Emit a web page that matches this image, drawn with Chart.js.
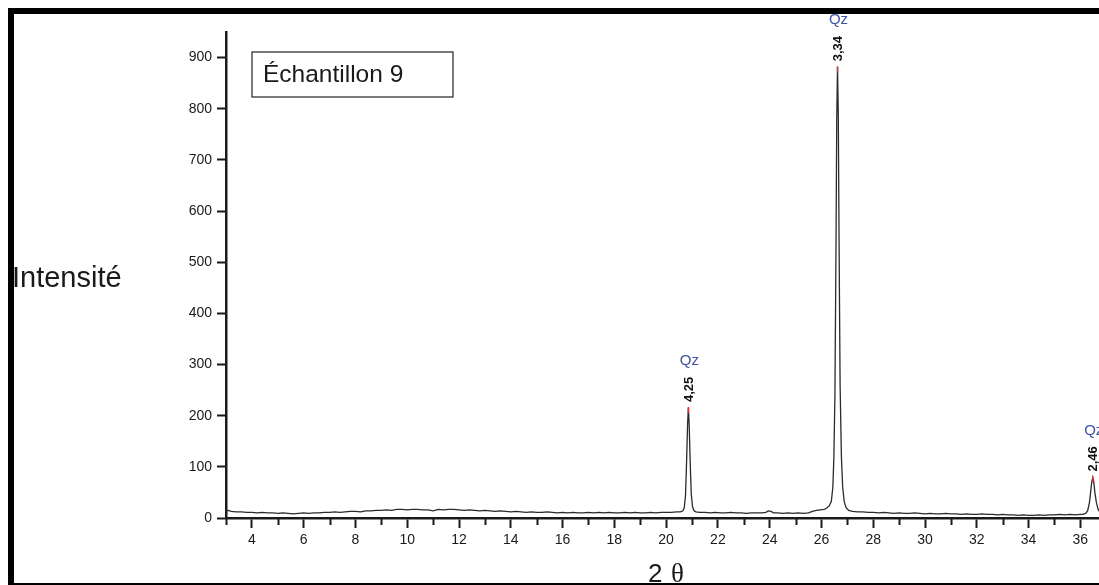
<!DOCTYPE html>
<html>
<head>
<meta charset="utf-8">
<script src="https://cdn.jsdelivr.net/npm/chart.js@4.4.0/dist/chart.umd.min.js"></script>
<style>
  html, body { margin: 0; padding: 0; background: #fff; }
  canvas { display: block; }
</style>
</head>
<body>
<canvas id="xrd-canvas" width="1099" height="585"></canvas>
<script>
// 2 theta positions and intensities
const twoTheta = [
  3.0, 3.1, 3.2, 3.4, 3.6, 3.8, 4.0, 4.2, 4.4, 4.6, 4.8, 5.0, 5.2, 5.4, 5.6, 5.8,
  6.0, 6.2, 6.4, 6.6, 6.8, 7.0, 7.2, 7.4, 7.6, 7.8, 8.0, 8.2, 8.4, 8.6, 8.8,
  9.0, 9.2, 9.4, 9.6, 9.8, 10.0, 10.2, 10.4, 10.6, 10.8, 11.0, 11.2, 11.4, 11.6, 11.8,
  12.0, 12.2, 12.4, 12.6, 12.8, 13.0, 13.2, 13.4, 13.6, 13.8, 14.0, 14.2, 14.4, 14.6, 14.8,
  15.0, 15.2, 15.4, 15.6, 15.8, 16.0, 16.2, 16.4, 16.6, 16.8, 17.0, 17.2, 17.4, 17.6, 17.8,
  18.0, 18.2, 18.4, 18.6, 18.8, 19.0, 19.2, 19.4, 19.6, 19.8, 20.0, 20.2, 20.4,
  20.55, 20.65, 20.70, 20.75, 20.79, 20.83, 20.86, 20.89, 20.93, 20.97, 21.02, 21.08, 21.15,
  21.3, 21.5, 21.7, 21.9, 22.1, 22.3, 22.5, 22.7, 22.9, 23.1, 23.3, 23.5, 23.7,
  23.85, 23.95, 24.05, 24.15, 24.3, 24.5, 24.7, 24.9, 25.1, 25.3, 25.5, 25.65, 25.8, 25.95,
  26.1, 26.2, 26.3, 26.38, 26.44, 26.48, 26.52, 26.56, 26.59, 26.62, 26.65, 26.68, 26.72,
  26.77, 26.82, 26.88, 26.95, 27.05, 27.2, 27.4, 27.6, 27.8, 28.0, 28.2, 28.4, 28.6, 28.8,
  29.0, 29.2, 29.4, 29.6, 29.8, 30.0, 30.2, 30.4, 30.6, 30.8, 31.0, 31.2, 31.4, 31.6, 31.8,
  32.0, 32.2, 32.4, 32.6, 32.8, 33.0, 33.2, 33.4, 33.6, 33.8, 34.0, 34.2, 34.4, 34.6, 34.8,
  35.0, 35.2, 35.4, 35.6, 35.8, 36.0, 36.1, 36.2, 36.28, 36.35, 36.40, 36.44, 36.48,
  36.52, 36.56, 36.62, 36.68, 36.72
];
const intensity = [
  14, 15, 13, 12, 12, 11, 11, 10, 11, 10, 10, 9, 10, 9, 8, 9,
  10, 9, 10, 10, 11, 11, 12, 11, 12, 13, 13, 12, 14, 14, 15,
  15, 16, 15, 17, 17, 16, 17, 17, 16, 16, 14, 17, 16, 17, 17,
  16, 15, 16, 15, 14, 15, 14, 13, 14, 13, 12, 13, 12, 11, 12,
  11, 11, 12, 11, 10, 11, 10, 11, 10, 10, 11, 10, 11, 10, 11,
  10, 10, 11, 10, 11, 10, 10, 11, 10, 11, 11, 11, 12,
  12, 14, 20, 45, 110, 185, 215, 183, 108, 48, 22, 14, 12,
  11, 11, 10, 11, 10, 10, 11, 10, 10, 9, 10, 10, 10,
  11, 14, 13, 10, 10, 9, 10, 9, 10, 9, 10, 13, 15, 16,
  17, 19, 24, 32, 60, 120, 240, 520, 780, 881, 790, 540, 260,
  120, 60, 32, 20, 15, 13, 12, 12, 11, 11, 10, 11, 10, 9,
  10, 9, 9, 10, 9, 8, 9, 8, 8, 9, 8, 8, 7, 8, 7,
  7, 8, 7, 7, 6, 7, 6, 6, 5, 6, 5, 5, 6, 5, 6,
  6, 7, 6, 7, 6, 7, 7, 9, 14, 30, 52, 70, 79,
  70, 50, 30, 18, 13
];

// axis ticks
const xTickStart = 3;
const xTickEnd = 36;
const yTickValues = [0, 100, 200, 300, 400, 500, 600, 700, 800, 900];

// identified peaks
const peakPos = [20.86, 26.62, 36.48];
const peakTop = [215, 881, 79];
const peakD = ['4,25', '3,34', '2,46'];
const peakPhase = ['Qz', 'Qz', 'Qz'];

const sampleName = 'Échantillon 9';
const yTitle = 'Intensité';

const tickFont = { family: 'Liberation Sans', size: 14 };
const inkColor = '#1a1a1a';

// page frame, black bars top/left and thin bottom rule
const framePlugin = {
  id: 'frame',
  beforeDraw(chart) {
    const c = chart.ctx;
    c.save();
    c.fillStyle = '#fff';
    c.fillRect(0, 0, chart.width, chart.height);
    c.fillStyle = '#000';
    c.fillRect(8, 8, chart.width - 8, 6);
    c.fillRect(8, 8, 6, chart.height - 8);
    c.fillRect(8, 583, chart.width - 8, 2);
    c.restore();
  }
};

// minor ticks, peak labels, titles and sample box
const decorPlugin = {
  id: 'decor',
  afterDraw(chart) {
    const c = chart.ctx;
    const xs = chart.scales.x;
    const ys = chart.scales.y;
    c.save();

    // short ticks on odd values
    c.strokeStyle = inkColor;
    c.lineWidth = 2;
    xs.ticks.forEach(t => {
      if (t.value % 2 !== 0) {
        const px = Math.round(xs.getPixelForValue(t.value)) + 0.5;
        c.beginPath();
        c.moveTo(px, xs.top);
        c.lineTo(px, xs.top + 7);
        c.stroke();
      }
    });

    // peaks
    for (let i = 0; i < peakPos.length; i++) {
      const px = xs.getPixelForValue(peakPos[i]);
      const py = ys.getPixelForValue(peakTop[i]);
      c.strokeStyle = '#d0393b';
      c.lineWidth = 1.5;
      c.beginPath();
      c.moveTo(px, py - 1);
      c.lineTo(px, py + 5);
      c.stroke();

      c.save();
      c.translate(px + 1, py - 6);
      c.rotate(-Math.PI / 2);
      c.fillStyle = '#111';
      c.font = 'bold 13px "Liberation Sans"';
      c.textAlign = 'left';
      c.textBaseline = 'middle';
      c.fillText(peakD[i], 0, 0);
      c.restore();

      c.fillStyle = '#3f52a3';
      c.font = '15px "Liberation Sans"';
      c.textAlign = 'center';
      c.textBaseline = 'middle';
      c.fillText(peakPhase[i], px + 1, py - 47);
    }

    // sample box
    c.strokeStyle = '#333';
    c.lineWidth = 1.3;
    c.strokeRect(252, 52, 201, 45);
    c.fillStyle = inkColor;
    c.font = '24.5px "Liberation Sans"';
    c.textAlign = 'left';
    c.textBaseline = 'alphabetic';
    c.fillText(sampleName, 263, 82);

    // axis titles
    c.font = '29px "Liberation Sans"';
    c.fillText(yTitle, 12, 287);
    c.font = '26px "Liberation Sans"';
    c.fillText('2', 648, 582);
    c.font = '27px "Liberation Serif"';
    c.fillText('θ', 671, 582);

    c.restore();
  }
};

const ctx = document.getElementById('xrd-canvas').getContext('2d');

new Chart(ctx, {
  type: 'line',
  data: {
    datasets: [{
      data: twoTheta.map((x, i) => ({ x: x, y: intensity[i] })),
      borderColor: '#2b2b2b',
      borderWidth: 1.3,
      pointRadius: 0,
      tension: 0,
      fill: false
    }]
  },
  options: {
    responsive: false,
    animation: false,
    events: [],
    layout: { padding: { top: 32, left: 0, right: 0, bottom: 0 } },
    plugins: {
      legend: { display: false },
      tooltip: { enabled: false }
    },
    scales: {
      x: {
        type: 'linear',
        min: 3,
        max: 36.72,
        afterFit(scale) { scale.height = 67; },
        afterBuildTicks(scale) {
          const list = [];
          for (let v = xTickStart; v <= xTickEnd; v++) list.push({ value: v });
          scale.ticks = list;
        },
        border: { color: inkColor, width: 2.5 },
        grid: {
          drawOnChartArea: false,
          tickLength: 10,
          tickWidth: 2,
          tickColor: c => (c.tick && c.tick.value % 2 === 0) ? inkColor : 'rgba(0,0,0,0)'
        },
        ticks: {
          autoSkip: false,
          maxRotation: 0,
          padding: 4,
          font: tickFont,
          color: inkColor,
          callback: v => (v % 2 === 0 ? v : '')
        }
      },
      y: {
        min: 0,
        max: 950,
        afterFit(scale) { scale.width = 226; },
        afterBuildTicks(scale) {
          scale.ticks = yTickValues.map(v => ({ value: v }));
        },
        border: { color: inkColor, width: 2.5 },
        grid: {
          drawOnChartArea: false,
          tickLength: 9,
          tickWidth: 2,
          tickColor: inkColor
        },
        ticks: {
          padding: 5,
          font: tickFont,
          color: inkColor
        }
      }
    }
  },
  plugins: [framePlugin, decorPlugin]
});
</script>
</body>
</html>
